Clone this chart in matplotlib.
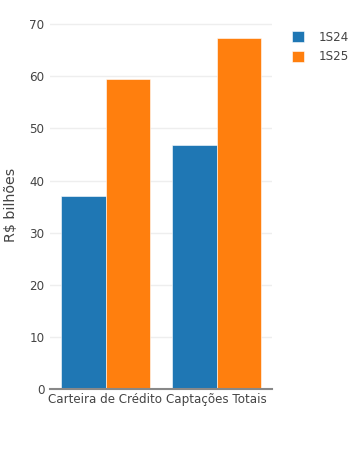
import matplotlib
matplotlib.use("Agg")
import matplotlib.pyplot as plt
import numpy as np

categories = ["Carteira de Crédito", "Captações Totais"]
series_names = ["1S24", "1S25"]
values_1s24 = [37.0, 46.8]
values_1s25 = [59.5, 67.3]
colours = ["#1f77b4", "#ff7f0e"]

plt.rcParams["font.family"] = ["DejaVu Sans"]

W, H = 364, 450
fig = plt.figure(figsize=(W / 100, H / 100), dpi=100)
ax = fig.add_axes([50 / W, 61 / H, 222 / W, (389 - 20) / H])

x = np.arange(len(categories))
width = 0.4
for k, (vals, name, col) in enumerate(zip([values_1s24, values_1s25], series_names, colours)):
    ax.bar(x + (k - 0.5) * width, vals, width=width, color=col, label=name,
           edgecolor="#ffffff", linewidth=0.4, zorder=2)

ax.set_xlim(-0.5, len(categories) - 0.5)
ax.set_ylim(0, 70.8)
ax.set_yticks(np.arange(0, 71, 10))
ax.set_xticks(x)
ax.set_xticklabels(categories)
ax.tick_params(axis="both", length=0, labelsize=8.6, colors="#444444", pad=3)
ax.tick_params(axis="y", pad=4)
ax.grid(axis="y", color="#eeeeee", linewidth=1, zorder=0)
for s in ("top", "right", "left"):
    ax.spines[s].set_visible(False)
ax.spines["bottom"].set_color("#888888")
ax.spines["bottom"].set_linewidth(1.5)
ax.spines["bottom"].set_zorder(3)

fig.text(11 / W, 1 - 205 / H, "R$ bilhões", rotation=90, va="center", ha="center",
         fontsize=10.3, color="#444444")

leg = ax.legend(loc="upper left", bbox_to_anchor=(1.04, 1.0), frameon=False,
                fontsize=8.6, handlelength=1.0, handleheight=1.0,
                handletextpad=1.3, labelspacing=0.55)
for t in leg.get_texts():
    t.set_color("#444444")

fig.savefig("out.png", dpi=100)
